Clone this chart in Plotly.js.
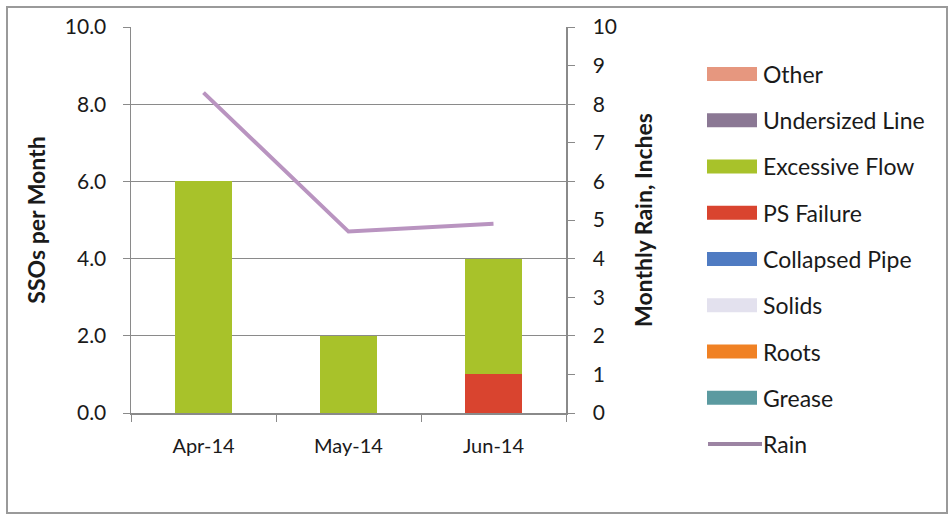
<!DOCTYPE html>
<html>
<head>
<meta charset="utf-8">
<script src="https://cdn.plot.ly/plotly-3.0.1.min.js"></script>
<style>
  body { margin: 0; background: #fff; }
  #wrap { position: relative; width: 949px; height: 517px; }
  #chart { width: 949px; height: 517px; }
  #frame { position: absolute; left: 6px; top: 6px; width: 938px; height: 504px;
           border: 2px solid #9a9a9a; pointer-events: none; }
</style>
</head>
<body>
<div id="wrap"><div id="chart"></div><div id="frame"></div></div>
<script>
// ---- data ----
const months = ["Apr-14", "May-14", "Jun-14"];
const grease = [0, 0, 0];
const roots = [0, 0, 0];
const solids = [0, 0, 0];
const collapsedPipe = [0, 0, 0];
const psFailure = [0, 0, 1];
const excessiveFlow = [6, 2, 3];
const undersizedLine = [0, 0, 0];
const other = [0, 0, 0];
const rain = [8.3, 4.7, 4.9];

// stacking order bottom -> top
const barSeries = [
  {name: "Grease", values: grease, color: "#5b9aa0"},
  {name: "Roots", values: roots, color: "#f08124"},
  {name: "Solids", values: solids, color: "#e3e1ee"},
  {name: "Collapsed Pipe", values: collapsedPipe, color: "#4f7bc2"},
  {name: "PS Failure", values: psFailure, color: "#d9442f"},
  {name: "Excessive Flow", values: excessiveFlow, color: "#a8c22a"},
  {name: "Undersized Line", values: undersizedLine, color: "#8b7894"},
  {name: "Other", values: other, color: "#e6977f"}
];
const rainColor = "#b994c0";

const FONT = "Lato, 'Noto Sans', sans-serif";
const TXT = "#1a1a1a";

const traces = barSeries.map(s => ({
  type: "bar", x: months, y: s.values, name: s.name,
  marker: {color: s.color, line: {width: 0}},
  width: 0.39, showlegend: false, hoverinfo: "x+y+name"
}));
traces.push({
  type: "scatter", mode: "lines", x: months, y: rain, name: "Rain", yaxis: "y2",
  line: {color: rainColor, width: 4}, showlegend: false
});

// geometry
const W = 949, H = 517, ml = 131, mr = 383, mt = 27, mb = 104;
const pw = W - ml - mr, ph = H - mt - mb;
const px = x => (x - ml) / pw;
const py = y => 1 - (y - mt) / ph;

// manual legend (Excel style: bars reversed, then line)
const legendItems = barSeries.slice().reverse().map(s => ({name: s.name, color: s.color, kind: "bar"}));
legendItems.push({name: "Rain", color: rainColor, kind: "line"});

const shapes = [];
const annotations = [];
legendItems.forEach((it, i) => {
  const cy = 74 + i * 46.25;
  if (it.kind === "bar") {
    shapes.push({type: "rect", xref: "paper", yref: "paper",
      x0: px(707), x1: px(757), y0: py(cy - 7), y1: py(cy + 7),
      fillcolor: it.color, line: {width: 0}});
  } else {
    shapes.push({type: "line", xref: "paper", yref: "paper",
      x0: px(708), x1: px(762), y0: py(cy), y1: py(cy),
      line: {color: "#9c84a3", width: 4}});
  }
  annotations.push({xref: "paper", yref: "paper", x: px(761), y: py(cy),
    xanchor: "left", yanchor: "middle", showarrow: false, text: it.name,
    font: {family: FONT, size: 23, color: TXT}});
});

const layout = {
  width: W, height: H,
  margin: {l: ml, r: mr, t: mt, b: mb, pad: 0},
  paper_bgcolor: "#ffffff", plot_bgcolor: "#ffffff",
  barmode: "stack",
  showlegend: false,
  font: {family: FONT, size: 20, color: TXT},
  xaxis: {
    type: "category", showline: true, linecolor: "#8a8a8a", linewidth: 1.5,
    ticks: "outside", tickson: "boundaries", ticklen: 7, tickcolor: "#8a8a8a",
    showgrid: false, zeroline: false, ticklabelstandoff: 14,
    tickfont: {family: FONT, size: 20, color: TXT}
  },
  yaxis: {
    range: [0, 10], tick0: 0, dtick: 2, tickformat: ".1f",
    showline: true, linecolor: "#8a8a8a", linewidth: 1.5,
    ticks: "outside", ticklen: 7, tickcolor: "#8a8a8a",
    showgrid: true, gridcolor: "#8a8a8a", gridwidth: 1.2, zeroline: false,
    ticklabelstandoff: 12,
    tickfont: {family: FONT, size: 21, color: TXT},
    title: {text: "<b>SSOs per Month</b>", standoff: 12,
            font: {family: FONT, size: 23, color: TXT}},
    automargin: false
  },
  yaxis2: {
    overlaying: "y", side: "right", range: [0, 10], tick0: 0, dtick: 1,
    showline: true, linecolor: "#8a8a8a", linewidth: 1.5,
    ticks: "outside", ticklen: 7, tickcolor: "#8a8a8a",
    showgrid: false, zeroline: false, ticklabelstandoff: 14,
    tickfont: {family: FONT, size: 21, color: TXT},
    title: {text: "<b>Monthly Rain, Inches</b>", standoff: 20,
            font: {family: FONT, size: 23, color: TXT}},
    automargin: false
  },
  shapes: shapes,
  annotations: annotations
};

Plotly.newPlot("chart", traces, layout, {displayModeBar: false, staticPlot: true});
</script>
</body>
</html>
